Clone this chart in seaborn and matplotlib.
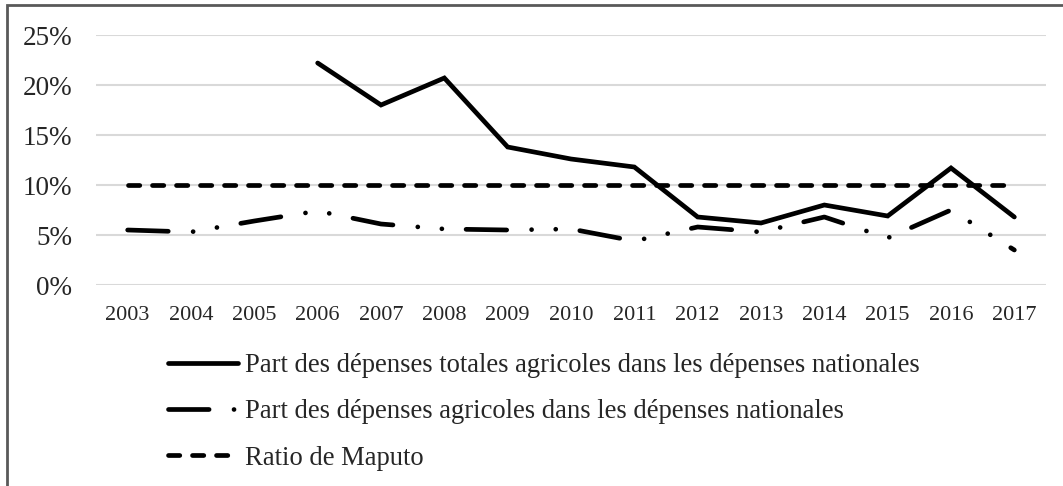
import matplotlib
matplotlib.use("Agg")
import matplotlib.pyplot as plt
import seaborn as sns
import numpy as np
import pandas as pd
from matplotlib.ticker import PercentFormatter
from matplotlib.patches import Rectangle

# data
years = list(range(2003, 2018))
part_totale = [np.nan, np.nan, np.nan, 0.222, 0.180, 0.207, 0.138, 0.126, 0.118,
               0.068, 0.062, 0.080, 0.069, 0.117, 0.068]
part_agricole = [0.055, 0.053, 0.064, 0.074, 0.061, 0.056, 0.055, 0.056, 0.044,
                 0.058, 0.053, 0.068, 0.047, 0.075, 0.035]
ratio_maputo = [0.10] * 15

labels = ["Part des dépenses totales agricoles dans les dépenses nationales",
          "Part des dépenses agricoles dans les dépenses nationales",
          "Ratio de Maputo"]

sns.set_style("white")
plt.rcParams["font.family"] = ["Liberation Serif", "DejaVu Serif"]

W, H = 1063, 486
fig = plt.figure(figsize=(W / 100, H / 100), dpi=100)
ax = fig.add_axes([96 / W, 1 - 285 / H, (1046 - 96) / W, 250 / H])

lw_px = 4.7
lw = lw_px * 0.72

# dash patterns in pixels, turned into linewidth units
long_dash_dot_dot = tuple(v / lw_px for v in (40.6, 24.9, 0.05, 24.1, 0.05, 24.2))
dash = tuple(v / lw_px for v in (11.3, 12.7))

sns.lineplot(x=years, y=part_totale, ax=ax, color="black", lw=lw,
             solid_capstyle="round", solid_joinstyle="miter", label=labels[0])
sns.lineplot(x=years, y=part_agricole, ax=ax, color="black", lw=lw,
             linestyle=(0, long_dash_dot_dot), dash_capstyle="round",
             label=labels[1])
sns.lineplot(x=years, y=ratio_maputo, ax=ax, color="black", lw=lw,
             linestyle=(0, dash), dash_capstyle="round", label=labels[2])

ax.set_xlim(2002.5, 2017.5)
ax.set_ylim(0, 0.25)
ax.set_xticks(years)
ax.set_yticks(np.arange(0, 0.26, 0.05))
ax.yaxis.set_major_formatter(PercentFormatter(1.0, decimals=0))
ax.grid(axis="y", color="#d9d9d9", lw=1.5)
ax.grid(axis="x", visible=False)
ax.set_axisbelow(True)
for s in ax.spines.values():
    s.set_visible(False)
ax.tick_params(axis="x", length=0, pad=15, labelsize=16)
ax.tick_params(axis="y", length=0, pad=17, labelsize=19.5)
ax.set_xlabel("")
ax.set_ylabel("")

ax.get_legend().remove()
handles, _ = ax.get_legend_handles_labels()
leg_px = 19.2 / 0.72
fig.legend(handles, labels, loc="upper left",
           bbox_to_anchor=(168 / W, 1 - 353 / H), frameon=False,
           fontsize=19.2, handlelength=70 / leg_px, handletextpad=0.25,
           labelspacing=0.8, borderaxespad=0, borderpad=0)

# outer chart border (only left and top fall inside the picture)
fig.patches.append(Rectangle((7 / W, -0.1), 1.2, 1 - 5 / H + 0.1,
                             transform=fig.transFigure, fill=False,
                             edgecolor="#595959", lw=2))

fig.savefig("out.png", dpi=100)
